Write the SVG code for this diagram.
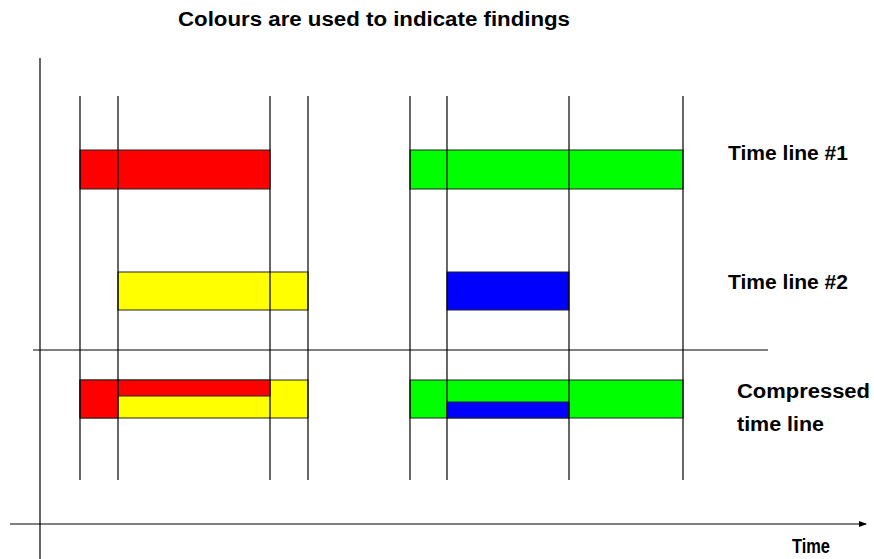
<svg xmlns="http://www.w3.org/2000/svg" width="874" height="559" viewBox="0 0 874 559">
<style>
.ln{stroke:#000;stroke-width:1.2;fill:none}
.bar{stroke:#222;stroke-width:1}
.t{font-family:"Liberation Sans",Arial,sans-serif;font-weight:bold;fill:#000}
</style>
<defs>
<marker id="arr" markerWidth="8" markerHeight="8" refX="7" refY="4" orient="auto" markerUnits="userSpaceOnUse">
<path d="M0,1 L8,4 L0,7 Z" fill="#000"/>
</marker>
</defs>
<rect width="874" height="559" fill="#fff"/>
<g id="bars">
<rect class="bar" x="80" y="150" width="190" height="39" fill="#ff0000"/>
<rect class="bar" x="410" y="150" width="273" height="39" fill="#00ff00"/>
<rect class="bar" x="118" y="272" width="190" height="38" fill="#ffff00"/>
<rect class="bar" x="447" y="272" width="122" height="38" fill="#0000ff"/>
<rect class="bar" x="80" y="380" width="228" height="38" fill="#ffff00"/>
<rect class="bar" x="80" y="380" width="38" height="38" fill="#ff0000"/>
<rect class="bar" x="118" y="380" width="152" height="16" fill="#ff0000"/>
<rect class="bar" x="410" y="380" width="273" height="38" fill="#00ff00"/>
<rect class="bar" x="447" y="402" width="122" height="16" fill="#0000ff"/>
</g>
<g id="connectors">
<line class="ln" x1="80" y1="96" x2="80" y2="480"/>
<line class="ln" x1="118" y1="96" x2="118" y2="480"/>
<line class="ln" x1="270" y1="96" x2="270" y2="480"/>
<line class="ln" x1="308" y1="96" x2="308" y2="480"/>
<line class="ln" x1="410" y1="96" x2="410" y2="480"/>
<line class="ln" x1="447" y1="96" x2="447" y2="480"/>
<line class="ln" x1="569" y1="96" x2="569" y2="480"/>
<line class="ln" x1="683" y1="96" x2="683" y2="480"/>
<line class="ln" x1="40" y1="58" x2="40" y2="559"/>
<line class="ln" x1="33" y1="350" x2="768" y2="350"/>
<line class="ln" x1="10" y1="524" x2="866" y2="524" marker-end="url(#arr)"/>
</g>
<g id="labels">
<text class="t" x="178" y="26" font-size="20" textLength="392" lengthAdjust="spacingAndGlyphs">Colours are used to indicate findings</text>
<text class="t" x="728" y="160" font-size="20" textLength="120" lengthAdjust="spacingAndGlyphs">Time line #1</text>
<text class="t" x="728" y="289" font-size="20" textLength="120" lengthAdjust="spacingAndGlyphs">Time line #2</text>
<text class="t" x="737" y="398" font-size="20" textLength="133" lengthAdjust="spacingAndGlyphs">Compressed</text>
<text class="t" x="737" y="431" font-size="20" textLength="87" lengthAdjust="spacingAndGlyphs">time line</text>
<text class="t" x="792" y="553" font-size="20" textLength="38" lengthAdjust="spacingAndGlyphs">Time</text>
</g>
</svg>
